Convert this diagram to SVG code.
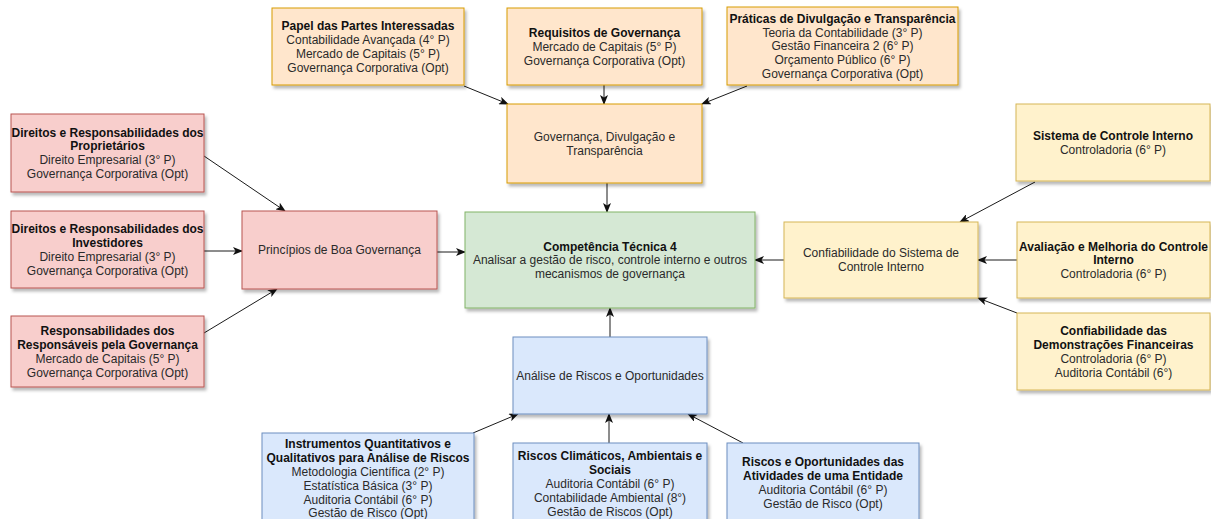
<svg xmlns="http://www.w3.org/2000/svg" width="1211" height="519" viewBox="0 0 1211 519">
<defs>
<filter id="sh" x="-10%" y="-10%" width="130%" height="130%">
<feDropShadow dx="2" dy="3" stdDeviation="1.5" flood-color="#000" flood-opacity="0.28"/>
</filter>
<marker id="arr" viewBox="0 0 10 8" markerWidth="10" markerHeight="8" refX="9" refY="4" orient="auto" markerUnits="userSpaceOnUse">
<path d="M0,0 L10,4 L0,8 L2.5,4 Z" fill="#111"/>
</marker>
</defs>
<style>
rect{stroke-width:1;filter:url(#sh)}
.o{fill:#ffe6cc;stroke:#d79b00}
.r{fill:#f8cecc;stroke:#b85450}
.g{fill:#d5e8d4;stroke:#82b366}
.b{fill:#dae8fc;stroke:#6c8ebf}
.y{fill:#fff2cc;stroke:#d6b656}
text{font-family:"Liberation Sans",Arial,sans-serif;font-size:12px;fill:#2a2a2a;text-anchor:middle}
.t{font-weight:bold;fill:#111}
#edges line{stroke:#1a1a1a;stroke-width:1;marker-end:url(#arr)}
</style>
<rect width="1211" height="519" fill="#fff" style="filter:none"/>

<g id="edges">
<line x1="464" y1="86" x2="508" y2="104"/>
<line x1="604" y1="85" x2="604" y2="104"/>
<line x1="747" y1="86" x2="702" y2="104"/>
<line x1="607" y1="183" x2="607" y2="212"/>
<line x1="204" y1="156" x2="285" y2="211"/>
<line x1="204" y1="251" x2="242" y2="251"/>
<line x1="204" y1="333" x2="277" y2="289"/>
<line x1="437" y1="252" x2="465" y2="252"/>
<line x1="784" y1="260" x2="755" y2="260"/>
<line x1="1035" y1="182" x2="960" y2="222"/>
<line x1="1017" y1="260" x2="978" y2="260"/>
<line x1="1017" y1="313" x2="978" y2="298"/>
<line x1="610" y1="337" x2="610" y2="308"/>
<line x1="473" y1="433" x2="518" y2="414"/>
<line x1="609" y1="443" x2="609" y2="414"/>
<line x1="743" y1="443" x2="688" y2="414"/>
</g>

<g id="n_papel">
<rect class="o" x="272" y="8" width="192" height="77"/>
<text class="t" x="368" y="30.1">Papel das Partes Interessadas</text>
<text x="368" y="43.9">Contabilidade Avançada (4° P)</text>
<text x="368" y="57.7">Mercado de Capitais (5° P)</text>
<text x="368" y="71.5">Governança Corporativa (Opt)</text>
</g>

<g id="n_requisitos">
<rect class="o" x="507" y="8" width="195" height="77"/>
<text class="t" x="604.5" y="37">Requisitos de Governança</text>
<text x="604.5" y="50.8">Mercado de Capitais (5° P)</text>
<text x="604.5" y="64.6">Governança Corporativa (Opt)</text>
</g>

<g id="n_praticas">
<rect class="o" x="727" y="7" width="231" height="78"/>
<text class="t" x="842.5" y="22.7">Práticas de Divulgação e Transparência</text>
<text x="842.5" y="36.5">Teoria da Contabilidade (3° P)</text>
<text x="842.5" y="50.3">Gestão Financeira 2 (6° P)</text>
<text x="842.5" y="64.1">Orçamento Público (6° P)</text>
<text x="842.5" y="77.9">Governança Corporativa (Opt)</text>
</g>

<g id="n_governanca">
<rect class="o" x="507" y="104" width="195" height="79"/>
<text x="604.5" y="140.9">Governança, Divulgação e</text>
<text x="604.5" y="154.7">Transparência</text>
</g>

<g id="n_competencia">
<rect class="g" x="465" y="212" width="290" height="96"/>
<text class="t" x="610" y="250.5">Competência Técnica 4</text>
<text x="610" y="264.3">Analisar a gestão de risco, controle interno e outros</text>
<text x="610" y="278.1">mecanismos de governança</text>
</g>

<g id="n_dir_proprietarios">
<rect class="r" x="11" y="114" width="193" height="78"/>
<text class="t" x="107.5" y="136.6">Direitos e Responsabilidades dos</text>
<text class="t" x="107.5" y="150.4">Proprietários</text>
<text x="107.5" y="164.2">Direito Empresarial (3° P)</text>
<text x="107.5" y="178">Governança Corporativa (Opt)</text>
</g>

<g id="n_dir_investidores">
<rect class="r" x="11" y="211" width="193" height="77"/>
<text class="t" x="107.5" y="233.1">Direitos e Responsabilidades dos</text>
<text class="t" x="107.5" y="246.9">Investidores</text>
<text x="107.5" y="260.7">Direito Empresarial (3° P)</text>
<text x="107.5" y="274.5">Governança Corporativa (Opt)</text>
</g>

<g id="n_responsabilidades">
<rect class="r" x="11" y="316" width="193" height="71"/>
<text class="t" x="107.5" y="335.1">Responsabilidades dos</text>
<text class="t" x="107.5" y="348.9">Responsáveis pela Governança</text>
<text x="107.5" y="362.7">Mercado de Capitais (5° P)</text>
<text x="107.5" y="376.5">Governança Corporativa (Opt)</text>
</g>

<g id="n_principios">
<rect class="r" x="242" y="211" width="195" height="78"/>
<text x="339.5" y="254.3">Princípios de Boa Governança</text>
</g>

<g id="n_sistema">
<rect class="y" x="1016" y="104" width="194" height="77"/>
<text class="t" x="1113" y="139.9">Sistema de Controle Interno</text>
<text x="1113" y="153.7">Controladoria (6° P)</text>
</g>

<g id="n_confiabilidade_sistema">
<rect class="y" x="784" y="222" width="194" height="76"/>
<text x="881" y="257.4">Confiabilidade do Sistema de</text>
<text x="881" y="271.2">Controle Interno</text>
</g>

<g id="n_avaliacao">
<rect class="y" x="1017" y="222" width="193" height="76"/>
<text class="t" x="1113.5" y="250.5">Avaliação e Melhoria do Controle</text>
<text class="t" x="1113.5" y="264.3">Interno</text>
<text x="1113.5" y="278.1">Controladoria (6° P)</text>
</g>

<g id="n_confiabilidade_df">
<rect class="y" x="1017" y="313" width="193" height="77"/>
<text class="t" x="1113.5" y="335.1">Confiabilidade das</text>
<text class="t" x="1113.5" y="348.9">Demonstrações Financeiras</text>
<text x="1113.5" y="362.7">Controladoria (6° P)</text>
<text x="1113.5" y="376.5">Auditoria Contábil (6°)</text>
</g>

<g id="n_analise">
<rect class="b" x="513" y="337" width="194" height="77"/>
<text x="610" y="379.8">Análise de Riscos e Oportunidades</text>
</g>

<g id="n_instrumentos">
<rect class="b" x="262" y="433" width="212" height="100"/>
<text class="t" x="368" y="448.3">Instrumentos Quantitativos e</text>
<text class="t" x="368" y="462.1">Qualitativos para Análise de Riscos</text>
<text x="368" y="475.9">Metodologia Científica (2° P)</text>
<text x="368" y="489.7">Estatística Básica (3° P)</text>
<text x="368" y="503.5">Auditoria Contábil (6° P)</text>
<text x="368" y="517.3">Gestão de Risco (Opt)</text>
</g>

<g id="n_climaticos">
<rect class="b" x="513" y="443" width="194" height="90"/>
<text class="t" x="610" y="460.3">Riscos Climáticos, Ambientais e</text>
<text class="t" x="610" y="474.1">Sociais</text>
<text x="610" y="487.9">Auditoria Contábil (6° P)</text>
<text x="610" y="501.7">Contabilidade Ambiental (8°)</text>
<text x="610" y="515.5">Gestão de Riscos (Opt)</text>
</g>

<g id="n_riscos_oportunidades">
<rect class="b" x="727" y="443" width="192" height="90"/>
<text class="t" x="823" y="466.3">Riscos e Oportunidades das</text>
<text class="t" x="823" y="480.1">Atividades de uma Entidade</text>
<text x="823" y="493.9">Auditoria Contábil (6° P)</text>
<text x="823" y="507.7">Gestão de Risco (Opt)</text>
</g>
</svg>
